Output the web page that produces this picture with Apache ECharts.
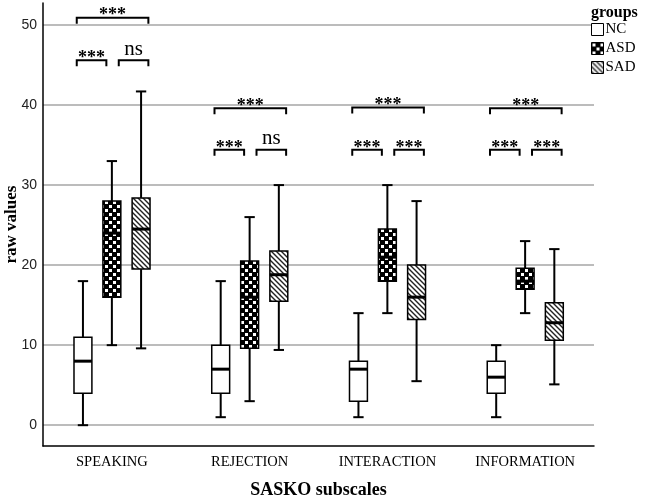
<!DOCTYPE html>
<html><head><meta charset="utf-8">
<script src="https://cdn.jsdelivr.net/npm/echarts@6/dist/echarts.min.js"></script>
<style>html,body{margin:0;padding:0;background:#fff}#c{width:650px;height:499px}</style>
</head><body><div id="c"></div>
<script>
// ---------- data ----------
const categories = ['SPEAKING', 'REJECTION', 'INTERACTION', 'INFORMATION'];
const groups = ['NC', 'ASD', 'SAD'];
// each: [min, q1, median, q3, max] per category
const ncValues  = [[0, 4, 8, 11, 18], [1, 4, 7, 10, 18], [1, 3, 7, 8, 14], [1, 4, 6, 8, 10]];
const asdValues = [[10, 16, 24, 28, 33], [3, 9.6, 16, 20.5, 26], [14, 18, 21, 24.5, 30], [14, 17, 18, 19.6, 23]];
const sadValues = [[9.6, 19.5, 24.5, 28.4, 41.7], [9.4, 15.5, 18.8, 21.75, 30], [5.5, 13.2, 16, 20, 28], [5.1, 10.6, 12.8, 15.3, 22]];
const yTicks = [0, 10, 20, 30, 40, 50];
// significance brackets: [categoryIndex, fromGroup, toGroup, yValue, label]
const sigBrackets = [
  [0, 0, 2, 50.9, '***'], [0, 0, 1, 45.6, '***'], [0, 1, 2, 45.6, 'ns'],
  [1, 0, 2, 39.6, '***'], [1, 0, 1, 34.4, '***'], [1, 1, 2, 34.4, 'ns'],
  [2, 0, 2, 39.7, '***'], [2, 0, 1, 34.4, '***'], [2, 1, 2, 34.4, '***'],
  [3, 0, 2, 39.6, '***'], [3, 0, 1, 34.4, '***'], [3, 1, 2, 34.4, '***']
];

// ---------- patterns ----------
function makeChecker() {
  const c = document.createElement('canvas'); c.width = 8; c.height = 8;
  const g = c.getContext('2d');
  g.fillStyle = '#000'; g.fillRect(0, 0, 8, 8);
  g.fillStyle = '#fff'; g.fillRect(1, 1, 3, 3); g.fillRect(5, 5, 3, 3);
  return c;
}
function makeHatch() {
  const c = document.createElement('canvas'); c.width = 5; c.height = 5;
  const g = c.getContext('2d');
  g.fillStyle = '#fff'; g.fillRect(0, 0, 5, 5);
  g.strokeStyle = '#222'; g.lineWidth = 1.4;
  g.beginPath();
  g.moveTo(-1, -1); g.lineTo(6, 6);
  g.moveTo(-1, 4); g.lineTo(1, 6);
  g.moveTo(4, -1); g.lineTo(6, 1);
  g.stroke();
  return c;
}
const FILLS = ['#ffffff', { image: makeChecker(), repeat: 'repeat' }, { image: makeHatch(), repeat: 'repeat' }];
const GROUP_OFFSETS = [-0.21, 0, 0.212];
const BR_LEFT = { 0: -0.255, 1: 0.05 };
const BR_RIGHT = { 1: -0.04, 2: 0.265 };
const SERIF = '"Liberation Serif", "DejaVu Serif", serif';

function makeBoxRender(gi) {
  return function (params, api) {
    const cat = api.value(0);
    const band = api.size([1, 0])[0];
    const xc = api.coord([cat, 0])[0] + GROUP_OFFSETS[gi] * band;
    const y = k => api.coord([cat, api.value(k)])[1];
    const yMin = y(1), yQ1 = y(2), yMed = y(3), yQ3 = y(4), yMax = y(5);
    const bw = band * 0.13, cw = band * 0.075;
    const ls = { stroke: '#000', lineWidth: 2 };
    return {
      type: 'group', children: [
        { type: 'line', shape: { x1: xc, y1: yMax, x2: xc, y2: yQ3 }, style: ls },
        { type: 'line', shape: { x1: xc, y1: yQ1, x2: xc, y2: yMin }, style: ls },
        { type: 'line', shape: { x1: xc - cw / 2, y1: yMax, x2: xc + cw / 2, y2: yMax }, style: ls },
        { type: 'line', shape: { x1: xc - cw / 2, y1: yMin, x2: xc + cw / 2, y2: yMin }, style: ls },
        { type: 'rect', shape: { x: xc - bw / 2, y: yQ3, width: bw, height: yQ1 - yQ3 }, style: { fill: FILLS[gi], stroke: '#000', lineWidth: 1.5 } },
        { type: 'line', shape: { x1: xc - bw / 2, y1: yMed, x2: xc + bw / 2, y2: yMed }, style: { stroke: '#000', lineWidth: 3 } }
      ]
    };
  };
}

function renderBracket(params, api) {
  const cat = api.value(0), g1 = api.value(1), g2 = api.value(2), yv = api.value(3);
  const label = sigBrackets[params.dataIndex][4];
  const band = api.size([1, 0])[0];
  const p = api.coord([cat, yv]);
  const xl = p[0] + BR_LEFT[g1] * band, xr = p[0] + BR_RIGHT[g2] * band, yb = p[1];
  const isNs = label === 'ns';
  return {
    type: 'group', children: [
      { type: 'polyline', shape: { points: [[xl, yb + 6], [xl, yb], [xr, yb], [xr, yb + 6]] }, style: { stroke: '#000', lineWidth: 2, fill: null } },
      { type: 'text', style: { text: label, x: (xl + xr) / 2, y: isNs ? yb - 11 : yb - 2, align: 'center', verticalAlign: 'middle',
        font: isNs ? '21px ' + SERIF : 'bold 18px ' + SERIF, fill: '#000' } }
    ]
  };
}

const groupData = [ncValues, asdValues, sadValues];
const boxSeries = groups.map((name, gi) => ({
  name: name,
  type: 'custom',
  renderItem: makeBoxRender(gi),
  itemStyle: { color: FILLS[gi], borderColor: '#000', borderWidth: 1 },
  encode: { x: 0, y: [1, 2, 3, 4, 5] },
  data: groupData[gi].map((v, i) => [i].concat(v)),
  z: 3
}));

const chart = echarts.init(document.getElementById('c'), null, { renderer: 'canvas' });
chart.setOption({
  animation: false,
  backgroundColor: '#fff',
  grid: { left: 43, right: 56, top: 3, bottom: 53, containLabel: false, outerBoundsMode: 'none' },
  legend: {
    data: groups, orient: 'vertical', left: 591, top: 22,
    itemWidth: 12, itemHeight: 12, itemGap: 4, icon: 'rect',
    itemStyle: { borderColor: '#000', borderWidth: 1 },
    textStyle: { fontFamily: SERIF, fontSize: 15, color: '#000', padding: [0, 0, 0, -3] },
    padding: 0
  },
  graphic: [{ type: 'text', left: 591, top: 5, style: { text: 'groups', font: 'bold 16px ' + SERIF, fill: '#000' } }],
  xAxis: {
    type: 'category', data: categories, boundaryGap: true,
    axisLine: { onZero: false, lineStyle: { color: '#000', width: 1.5 } },
    axisTick: { show: false },
    axisLabel: { fontFamily: SERIF, fontSize: 14.5, color: '#000', margin: 9 },
    name: 'SASKO subscales', nameLocation: 'middle', nameGap: 35, nameMoveOverlap: false,
    nameTextStyle: { fontFamily: SERIF, fontWeight: 'bold', fontSize: 18, color: '#000' }
  },
  yAxis: {
    type: 'value', min: -2.6, max: 52.75,
    axisLine: { show: true, lineStyle: { color: '#000', width: 1.5 } },
    axisTick: { show: false, customValues: yTicks },
    axisLabel: { customValues: yTicks, fontFamily: '"Liberation Sans Narrow", "Liberation Sans", sans-serif', fontSize: 14, color: '#222', margin: 6 },
    splitLine: { show: true, lineStyle: { color: '#a6a6a6', width: 1.5 } },
    name: 'raw values', nameLocation: 'middle', nameGap: 23, nameMoveOverlap: false,
    nameTextStyle: { fontFamily: SERIF, fontWeight: 'bold', fontSize: 17, color: '#000' }
  },
  series: boxSeries.concat([{
    name: 'sig', type: 'custom', renderItem: renderBracket,
    encode: { x: 0, y: 3 }, data: sigBrackets.map(r => r.slice(0, 4)), z: 4, silent: true
  }])
});
</script></body></html>
